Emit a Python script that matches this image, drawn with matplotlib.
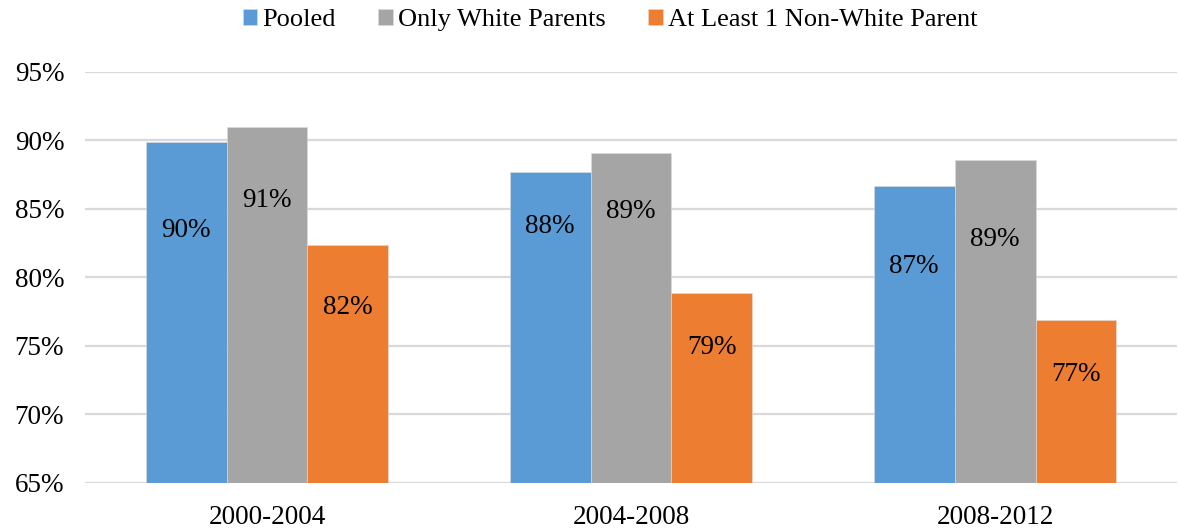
import numpy as np
import matplotlib.pyplot as plt
from matplotlib.ticker import FuncFormatter

plt.rcParams['font.family'] = ['Liberation Serif', 'DejaVu Serif']

# Data
periods = ['2000-2004', '2004-2008', '2008-2012']
series = ['Pooled', 'Only White Parents', 'At Least 1 Non-White Parent']
pooled = [89.9, 87.7, 86.7]
white = [91.0, 89.1, 88.6]
nonwhite = [82.4, 78.9, 76.9]
labels_txt = [['90%', '88%', '87%'], ['91%', '89%', '89%'], ['82%', '79%', '77%']]

# where the data labels sit (manually placed in the original)
label_y = [[83.4, 83.7, 80.8], [85.6, 84.8, 82.8], [77.8, 74.9, 72.9]]

colors = ['#5B9BD5', '#A5A5A5', '#ED7D31']

fig = plt.figure(figsize=(11.78, 5.29), dpi=100)
ax = fig.add_axes([0.0722, 0.087, 0.9270, 0.777])

x = np.arange(len(periods))
w = 1 / 4.5
base = 65
for i, vals in enumerate([pooled, white, nonwhite]):
    xs = x + (i - 1) * w
    ax.bar(xs, np.array(vals) - base, width=w, bottom=base, color=colors[i],
           edgecolor='#dddddd', linewidth=0.4, label=series[i], zorder=3)
    for j in range(len(periods)):
        ax.text(xs[j], label_y[i][j], labels_txt[i][j], ha='center', va='center',
                fontsize=19.5, color='black', zorder=4)

ax.set_xlim(-0.5, 2.5)
ax.set_ylim(65, 95)
ax.set_yticks(np.arange(65, 96, 5))
ax.yaxis.set_major_formatter(FuncFormatter(lambda v, p: f'{v:.0f}%'))
ax.set_xticks(x)
ax.set_xticklabels(periods)
ax.tick_params(axis='both', length=0, labelsize=19.5)
ax.tick_params(axis='y', pad=15)
ax.tick_params(axis='x', pad=16)
ax.grid(axis='y', color='#d9d9d9', linewidth=1.6, zorder=0)
for s in ax.spines.values():
    s.set_visible(False)

fig.legend(loc='center', bbox_to_anchor=(0.518, 0.962), ncol=3, frameon=False,
           fontsize=19, handlelength=0.55, handleheight=0.55, handletextpad=0.2,
           columnspacing=1.6)

fig.savefig('out.png', dpi=100)
